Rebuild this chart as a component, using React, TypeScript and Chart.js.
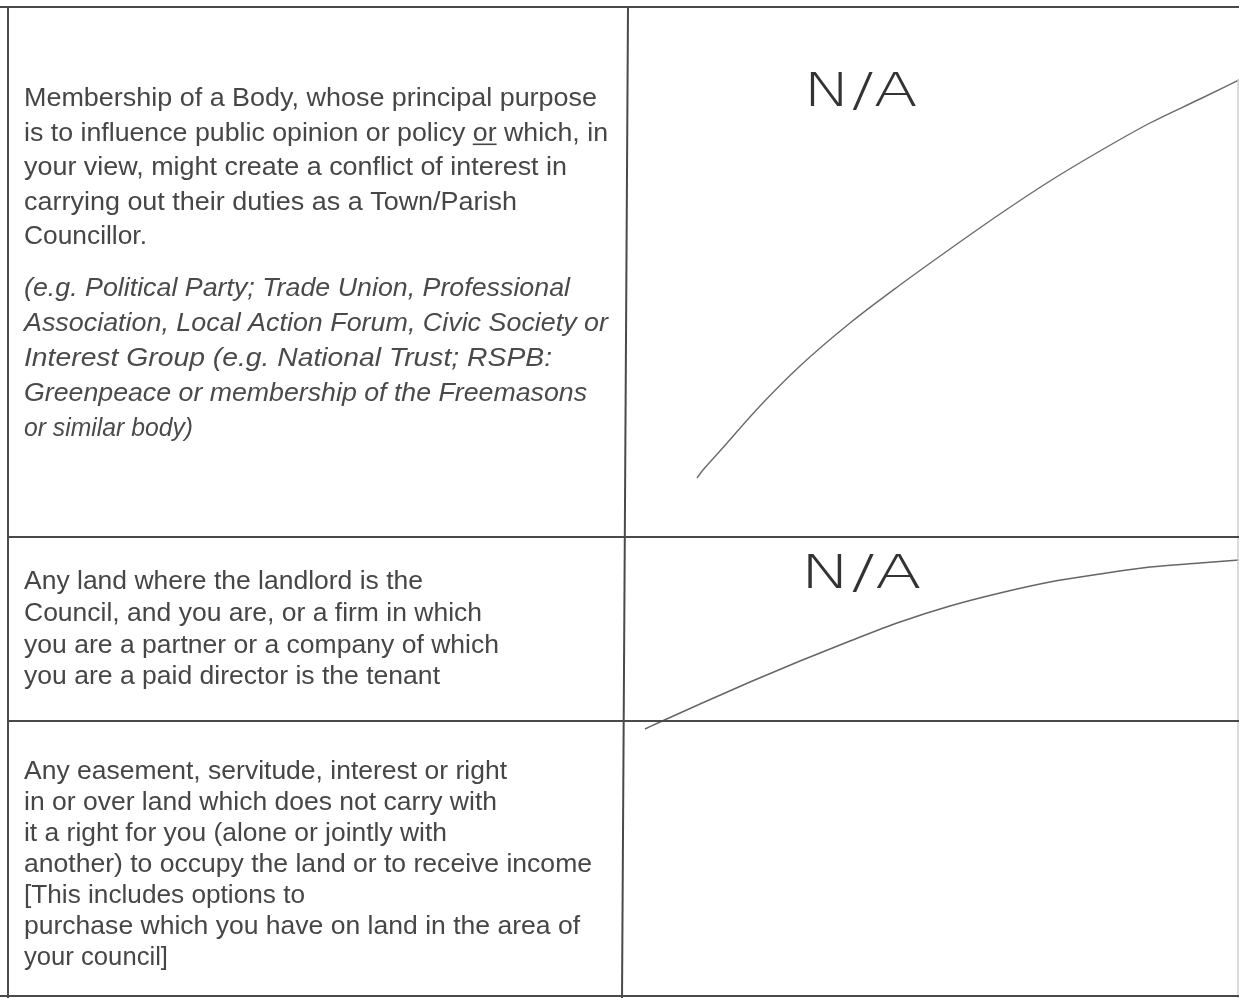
import React, { useEffect, useRef } from "react";
import { Chart, registerables } from "chart.js";

Chart.register(...registerables);

const PAGE_W = 1239;
const PAGE_H = 998;

// ---- table rules (page units) ----
const rowRules = [7, 537, 721, 996];
const outerRuleStart = 0;
const leftRule = 8;
const dividerTopX = 628;
const dividerBottomX = 622;
const rightEdgeX = 1238;

// ---- handwritten strike-through strokes ----
const strike1X = [697, 703, 720, 760, 800, 850, 900, 950, 1000, 1050, 1100, 1150, 1200, 1239];
const strike1Y = [478, 470, 451, 406, 366, 323, 285, 249, 214, 181, 151, 123, 99, 80];
const strike2X = [645, 660, 700, 750, 800, 850, 900, 950, 1000, 1050, 1100, 1150, 1200, 1239];
const strike2Y = [729, 722, 704, 682, 661, 641, 622, 606, 593, 582, 574, 567, 563, 560];

// ---- form text ----
const bodyLines = [
  "Membership of a Body, whose principal purpose",
  "is to influence public opinion or policy _or_ which, in",
  "your view, might create a conflict of interest in",
  "carrying out their duties as a Town/Parish",
  "Councillor.",
];
const bodyEnds = [597, 608, 567, 517, 147];
const bodyBaselines = [106, 140.5, 175, 209.5, 244];

const exampleLines = [
  "(e.g. Political Party; Trade Union, Professional",
  "Association, Local Action Forum, Civic Society or",
  "Interest Group (e.g. National Trust; RSPB:",
  "Greenpeace or membership of the Freemasons",
  "or similar body)",
];
const exampleEnds = [570, 608, 552, 587, 193];
const exampleBaselines = [296, 331, 366, 401, 435.5];

const tenancyLines = [
  "Any land where the landlord is the",
  "Council, and you are, or a firm in which",
  "you are a partner or a company of which",
  "you are a paid director is the tenant",
];
const tenancyEnds = [423, 482, 499, 440];
const tenancyBaselines = [589, 621, 653, 684];

const easementLines = [
  "Any easement, servitude, interest or right",
  "in or over land which does not carry with",
  "it a right for you (alone or jointly with",
  "another) to occupy the land or to receive income",
  "[This includes options to",
  "purchase which you have on land in the area of",
  "your council]",
];
const easementEnds = [507, 497, 447, 592, 305, 580, 168];
const easementBaselines = [779, 810, 841, 872, 903, 934, 965];

const handNotes = ["N/A", "N/A"];
const handNoteX = [803, 800];
const handNoteEnds = [918, 925];
const handNoteBaselines = [106, 588];

const TEXT_LEFT = 24;

const BODY_FONT = '26px "Liberation Sans", Arimo, Arial, Helvetica, sans-serif';
const ITALIC_FONT = 'italic 26px "Liberation Sans", Arimo, Arial, Helvetica, sans-serif';
const HAND_FONT = '300 46px "DejaVu Sans", sans-serif';

type Block = {
  lines: string[];
  ends: number[];
  baselines: number[];
  font: string;
  color: string;
  starts?: number[];
  maxStretch: number;
};

const blocks: Block[] = [
  { lines: bodyLines, ends: bodyEnds, baselines: bodyBaselines, font: BODY_FONT, color: "#464646", maxStretch: 1.2 },
  { lines: exampleLines, ends: exampleEnds, baselines: exampleBaselines, font: ITALIC_FONT, color: "#4a4a4a", maxStretch: 1.2 },
  { lines: tenancyLines, ends: tenancyEnds, baselines: tenancyBaselines, font: BODY_FONT, color: "#464646", maxStretch: 1.2 },
  { lines: easementLines, ends: easementEnds, baselines: easementBaselines, font: BODY_FONT, color: "#464646", maxStretch: 1.2 },
  { lines: handNotes, ends: handNoteEnds, baselines: handNoteBaselines, starts: handNoteX, font: HAND_FONT, color: "#333333", maxStretch: 1.5 },
];

const formTextPlugin = {
  id: "formText",
  afterDatasetsDraw(chart: any) {
    const { ctx, scales } = chart;
    const sx = scales.x;
    const sy = scales.y;
    ctx.save();
    ctx.textBaseline = "alphabetic";
    ctx.textAlign = "left";
    for (const b of blocks) {
      ctx.font = b.font;
      ctx.fillStyle = b.color;
      b.lines.forEach((raw, i) => {
        const parts = raw.split("_");
        const full = parts.join("");
        const startVal = b.starts ? b.starts[i] : TEXT_LEFT;
        const x0 = sx.getPixelForValue(startVal);
        const x1 = sx.getPixelForValue(b.ends[i]);
        const y = sy.getPixelForValue(b.baselines[i]);
        const w = ctx.measureText(full).width;
        let k = (x1 - x0) / w;
        k = Math.max(0.8, Math.min(b.maxStretch, k));
        ctx.save();
        ctx.translate(x0, y);
        ctx.scale(k, 1);
        let cx = 0;
        parts.forEach((p, j) => {
          ctx.fillText(p, cx, 0);
          const pw = ctx.measureText(p).width;
          if (j % 2 === 1) ctx.fillRect(cx, 3, pw, 1.6);
          cx += pw;
        });
        ctx.restore();
      });
    }
    ctx.restore();
  },
};

const pts = (xs: number[], ys: number[]) => xs.map((x, i) => ({ x, y: ys[i] }));

const ruleColor = "#4a4a4a";

export default function App() {
  const ref = useRef<HTMLCanvasElement | null>(null);

  useEffect(() => {
    document.body.style.margin = "0";
    const canvas = ref.current;
    if (!canvas) return;

    const lastRow = rowRules.length - 1;
    const rules: any[] = rowRules.map((y, i) => ({
      data: [
        { x: i === 0 || i === lastRow ? outerRuleStart : leftRule, y },
        { x: PAGE_W, y },
      ],
      borderColor: ruleColor,
      borderWidth: 2,
    }));
    rules.push({
      data: [
        { x: leftRule, y: rowRules[0] },
        { x: leftRule, y: PAGE_H },
      ],
      borderColor: ruleColor,
      borderWidth: 2,
    });
    rules.push({
      data: [
        { x: dividerTopX, y: rowRules[0] },
        { x: dividerBottomX, y: PAGE_H },
      ],
      borderColor: ruleColor,
      borderWidth: 2,
    });
    rules.push({
      data: [
        { x: rightEdgeX, y: strike1Y[strike1Y.length - 1] },
        { x: rightEdgeX, y: PAGE_H },
      ],
      borderColor: "#d0d0d0",
      borderWidth: 1.5,
    });

    const strokes = [
      { data: pts(strike1X, strike1Y), borderColor: "#6a6a6a", borderWidth: 1.4, tension: 0.4, cubicInterpolationMode: "monotone" },
      { data: pts(strike2X, strike2Y), borderColor: "#666666", borderWidth: 1.5, tension: 0.4, cubicInterpolationMode: "monotone" },
    ];

    const datasets = [...rules, ...strokes].map((d) => ({
      ...d,
      showLine: true,
      pointRadius: 0,
      fill: false,
      clip: false,
    }));

    const chart = new Chart(canvas, {
      type: "scatter",
      data: { datasets },
      options: {
        animation: false,
        responsive: false,
        devicePixelRatio: 1,
        layout: { padding: 0 },
        plugins: { legend: { display: false }, tooltip: { enabled: false }, title: { display: false } },
        scales: {
          x: { type: "linear", min: 0, max: PAGE_W, display: false },
          y: { type: "linear", min: 0, max: PAGE_H, reverse: true, display: false },
        },
        events: [],
      },
      plugins: [formTextPlugin],
    } as any);

    let alive = true;
    const fonts: any = (document as any).fonts;
    if (fonts && fonts.load) {
      Promise.all([BODY_FONT, ITALIC_FONT, HAND_FONT].map((f) => fonts.load(f).catch(() => null)))
        .then(() => {
          if (alive) chart.draw();
        })
        .catch(() => null);
    }

    return () => {
      alive = false;
      chart.destroy();
    };
  }, []);

  return (
    <div style={{ position: "fixed", left: 0, top: 0, width: PAGE_W, height: PAGE_H, background: "#ffffff", overflow: "hidden" }}>
      <canvas ref={ref} width={PAGE_W} height={PAGE_H} style={{ display: "block" }} />
    </div>
  );
}
